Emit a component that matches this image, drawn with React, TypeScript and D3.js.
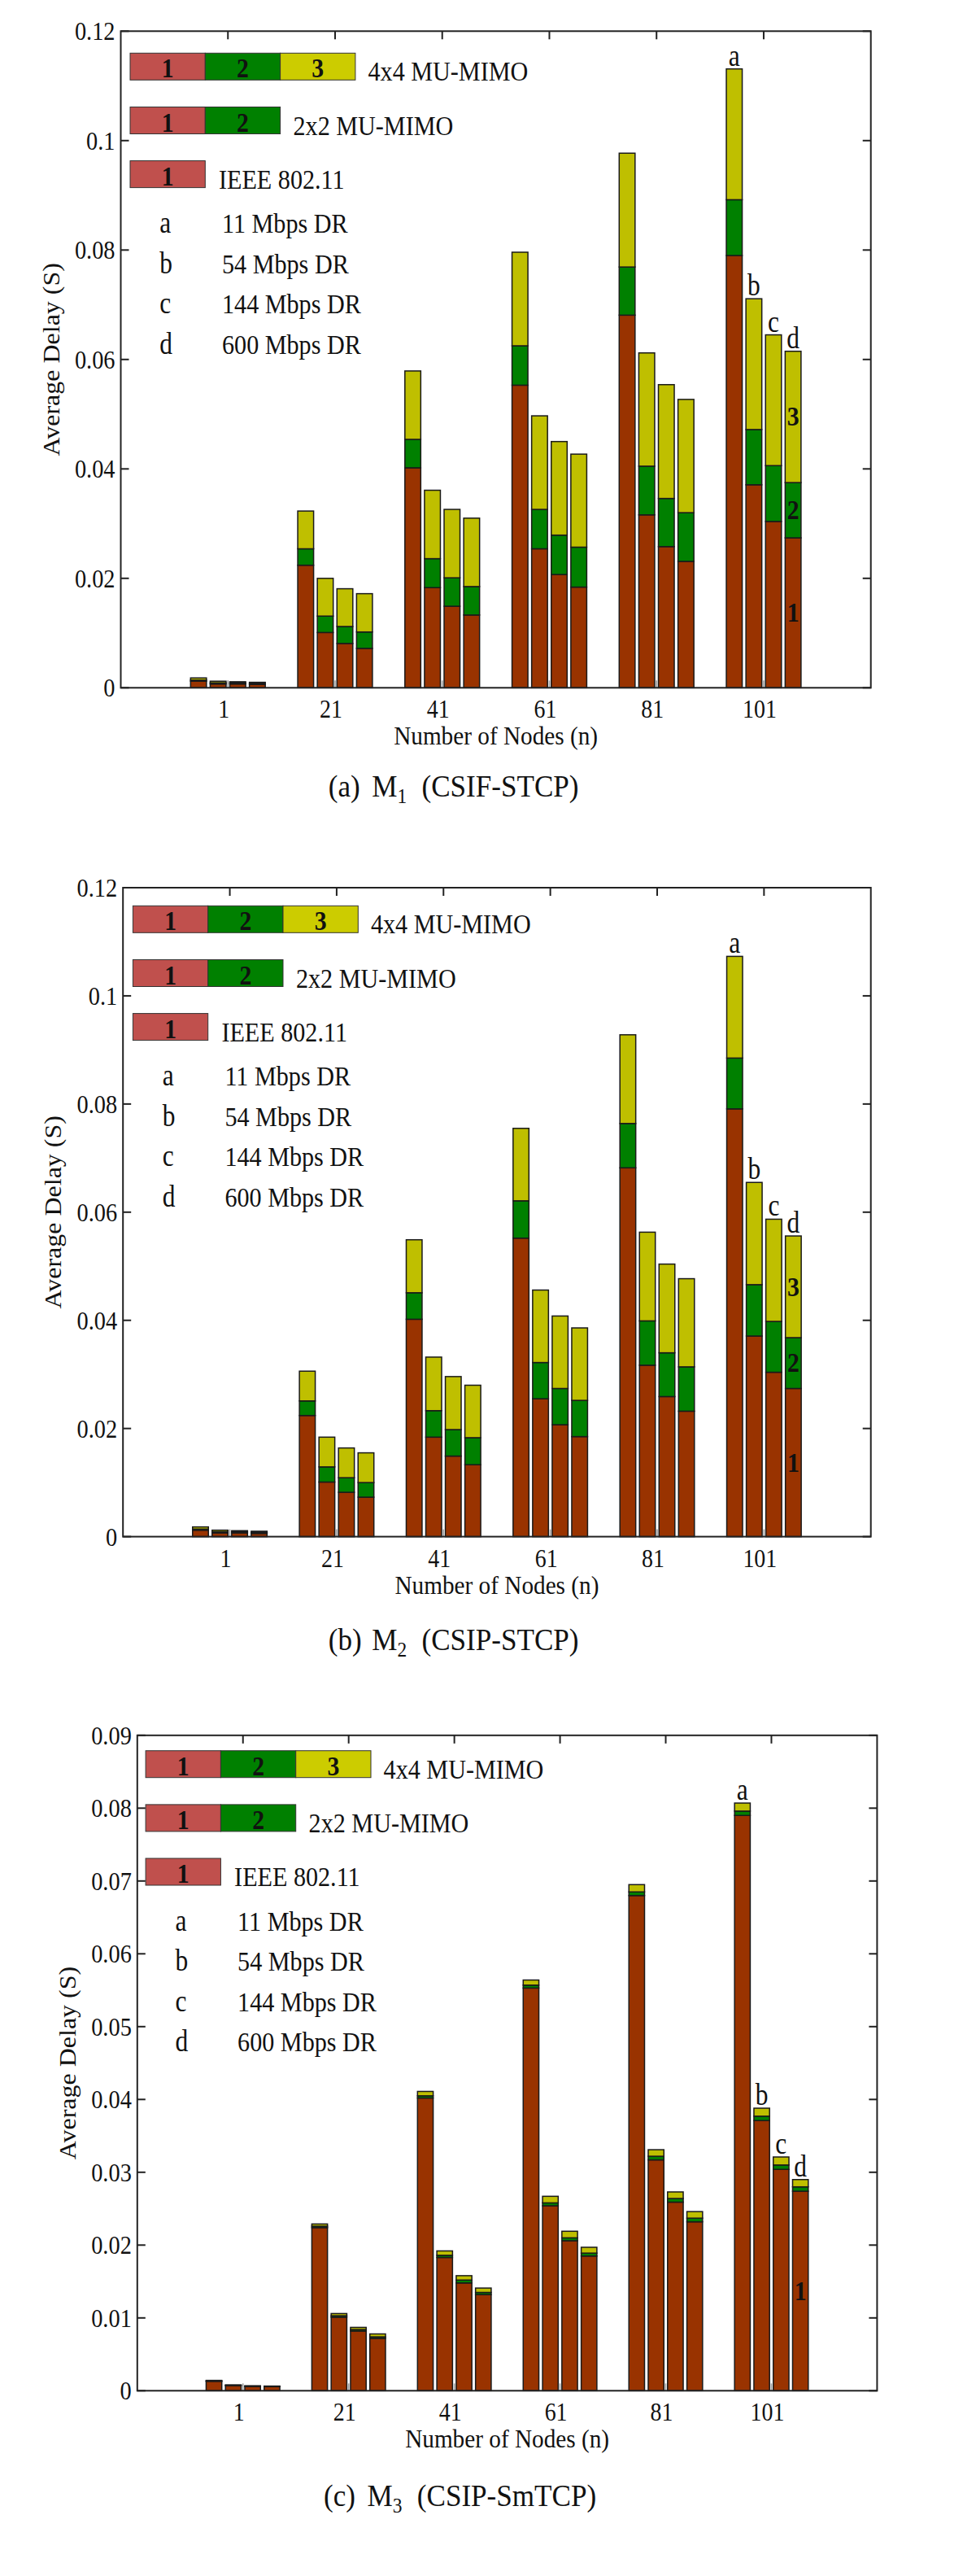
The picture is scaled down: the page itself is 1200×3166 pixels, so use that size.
import React from 'react';
import * as d3 from 'd3';

// ---------- data ----------
const nodeCounts = ['1', '21', '41', '61', '81', '101'];
const rateKeys = ['a', 'b', 'c', 'd'];
const rateLabels = ['11 Mbps DR', '54 Mbps DR', '144 Mbps DR', '600 Mbps DR'];
const schemeLabels = ['IEEE 802.11', '2x2 MU-MIMO', '4x4 MU-MIMO'];
const stackKeys = ['ieee', 'mimo2', 'mimo4'];

const yTicksM1 = [0, 0.02, 0.04, 0.06, 0.08, 0.1, 0.12];
const yTicksM2 = [0, 0.02, 0.04, 0.06, 0.08, 0.1, 0.12];
const yTicksM3 = [0, 0.01, 0.02, 0.03, 0.04, 0.05, 0.06, 0.07, 0.08, 0.09];

const captionM1 = ['(a)', 'M', '1', '(CSIF-STCP)'];
const captionM2 = ['(b)', 'M', '2', '(CSIP-STCP)'];
const captionM3 = ['(c)', 'M', '3', '(CSIP-SmTCP)'];

// rows: node groups; columns: data rates a..d
const m1Ieee = [
  [0.0012, 0.0007, 0.0007, 0.0006],
  [0.0224, 0.0101, 0.0081, 0.0072],
  [0.0402, 0.0183, 0.0149, 0.0133],
  [0.0553, 0.0254, 0.0207, 0.0184],
  [0.0681, 0.0316, 0.0258, 0.0231],
  [0.079, 0.0371, 0.0304, 0.0274],
];
const m1Mimo2 = [
  [0.0002, 0.0002, 0.0002, 0.0002],
  [0.003, 0.003, 0.0031, 0.003],
  [0.0052, 0.0053, 0.0052, 0.0052],
  [0.0072, 0.0072, 0.0072, 0.0073],
  [0.0088, 0.0089, 0.0088, 0.0089],
  [0.0102, 0.0101, 0.0102, 0.0101],
];
const m1Mimo4 = [
  [0.0004, 0.0003, 0.0002, 0.0002],
  [0.0069, 0.0069, 0.0069, 0.007],
  [0.0125, 0.0125, 0.0125, 0.0125],
  [0.0171, 0.0171, 0.0171, 0.017],
  [0.0208, 0.0207, 0.0208, 0.0207],
  [0.0239, 0.0239, 0.0239, 0.024],
];

const m2Ieee = [
  [0.0012, 0.0007, 0.0007, 0.0006],
  [0.0224, 0.0101, 0.0082, 0.0073],
  [0.0402, 0.0184, 0.0149, 0.0133],
  [0.0552, 0.0255, 0.0207, 0.0185],
  [0.0682, 0.0317, 0.0259, 0.0232],
  [0.0791, 0.0371, 0.0304, 0.0274],
];
const m2Mimo2 = [
  [0.0002, 0.0002, 0.0002, 0.0002],
  [0.0027, 0.0028, 0.0027, 0.0027],
  [0.0049, 0.0049, 0.0049, 0.005],
  [0.0069, 0.0067, 0.0067, 0.0067],
  [0.0082, 0.0082, 0.0081, 0.0082],
  [0.0094, 0.0095, 0.0094, 0.0094],
];
const m2Mimo4 = [
  [0.0004, 0.0003, 0.0002, 0.0002],
  [0.0055, 0.0055, 0.0055, 0.0055],
  [0.0098, 0.0099, 0.0098, 0.0097],
  [0.0134, 0.0134, 0.0134, 0.0134],
  [0.0164, 0.0164, 0.0164, 0.0163],
  [0.0188, 0.0189, 0.0189, 0.0188],
];

const m3Ieee = [
  [0.0013, 0.00072, 0.0006, 0.00056],
  [0.0224, 0.0101, 0.0082, 0.0072],
  [0.0402, 0.0183, 0.0148, 0.0132],
  [0.0553, 0.0254, 0.0206, 0.0185],
  [0.068, 0.0317, 0.0259, 0.0232],
  [0.079, 0.0371, 0.0304, 0.0274],
];
const m3Mimo2 = [
  [0.00004, 0.00003, 0.00003, 0.00003],
  [0.0002, 0.0002, 0.0002, 0.0002],
  [0.0003, 0.0003, 0.0004, 0.0003],
  [0.0004, 0.0004, 0.0004, 0.0004],
  [0.0005, 0.0005, 0.0005, 0.0005],
  [0.0006, 0.0006, 0.0006, 0.0006],
];
const m3Mimo4 = [
  [0.00008, 0.00005, 0.00005, 0.00005],
  [0.0003, 0.0003, 0.0003, 0.0004],
  [0.0006, 0.0006, 0.0006, 0.0006],
  [0.0007, 0.0009, 0.0009, 0.0008],
  [0.001, 0.0009, 0.0009, 0.0009],
  [0.0011, 0.0011, 0.0011, 0.001],
];

// ---------- styles / layout ----------
const FONT = "'Liberation Serif','Times New Roman',serif";
const BAR_COLORS = ['#993300', '#008000', '#BFBF00'];
const LEGEND_COLORS = ['#C0504D', '#008000', '#CCCC00'];
const SX = 0.9; // horizontal condensing of the original figure's text

const layouts = [
  { left: 148.5, right: 1070.7, top: 38.3, bottom: 845.3, yMax: 0.12, legX: 160, legY: 65.3, capX: 403.7, capY: 979, segLabels: [true, true, true] },
  { left: 151.2, right: 1070.7, top: 1091, bottom: 1888.6, yMax: 0.12, legX: 163.4, legY: 1113.3, capX: 403.7, capY: 2028, segLabels: [true, true, true] },
  { left: 168.8, right: 1078.4, top: 2132.8, bottom: 2938.3, yMax: 0.09, legX: 179.1, legY: 2151.7, capX: 398, capY: 3080, segLabels: [true, false, false] },
];

function CT({ x, y, size, anchor = 'start', weight = 'normal', sx = SX, rot = 0, children }: any) {
  return (
    <g transform={`translate(${x},${y}) scale(${sx},1)${rot ? ` rotate(${rot})` : ''}`}>
      <text fontFamily={FONT} fontSize={size} textAnchor={anchor} fontWeight={weight} fill="#111">
        {children}
      </text>
    </g>
  );
}

function Legend({ lx, ly }: { lx: number; ly: number }) {
  const sw = 92.3;
  const bh = 33;
  const rows = [
    { n: 3, label: schemeLabels[2], dy: 0, tx: 292.5 },
    { n: 2, label: schemeLabels[1], dy: 66.2, tx: 200.5 },
    { n: 1, label: schemeLabels[0], dy: 132.3, tx: 109 },
  ];
  return (
    <g>
      {rows.map((r, ri) => (
        <g key={ri}>
          {d3.range(r.n).map((k) => (
            <g key={k}>
              <rect x={lx + k * sw} y={ly + r.dy} width={sw} height={bh} fill={LEGEND_COLORS[k]} stroke="#333" strokeWidth={1} />
              <CT x={lx + k * sw + sw / 2} y={ly + r.dy + bh - 3} size={33} anchor="middle" weight="bold">{String(k + 1)}</CT>
            </g>
          ))}
          <CT x={lx + r.tx} y={ly + r.dy + 34} size={33.5}>{r.label}</CT>
        </g>
      ))}
      {rateKeys.map((k, i) => (
        <g key={k}>
          <CT x={lx + 36.3} y={ly + 221 + i * 49.5} size={37} sx={0.85}>{k}</CT>
          <CT x={lx + 113} y={ly + 221 + i * 49.5} size={33.5}>{rateLabels[i]}</CT>
        </g>
      ))}
    </g>
  );
}

function Panel({ L, ieee, mimo2, mimo4, ticks, caption }: any) {
  const step = (L.right - L.left) / 7;
  const x = d3.scaleBand().domain(nodeCounts).range([L.left + step / 2, L.right - step / 2]);
  const pitch = step * 0.183;
  const xr = d3.scaleBand().domain(rateKeys).range([-2 * pitch, 2 * pitch]).paddingInner(0.19).paddingOuter(0.095);
  const y = d3.scaleLinear().domain([0, L.yMax]).range([L.bottom, L.top]);
  const center = (c: string) => (x(c) as number) + x.bandwidth() / 2;
  const fmt = (v: number) => (v === 0 ? '0' : d3.format('~g')(v));

  const rows: any[] = [];
  nodeCounts.forEach((n, gi) =>
    rateKeys.forEach((r, ri) => rows.push({ n, r, ieee: ieee[gi][ri], mimo2: mimo2[gi][ri], mimo4: mimo4[gi][ri] }))
  );
  const series = d3.stack().keys(stackKeys)(rows);

  const lastGroup = nodeCounts[nodeCounts.length - 1];
  const lastRows = rows.map((d, i) => ({ d, i })).filter((o) => o.d.n === lastGroup);

  return (
    <g>
      {/* bottom inward ticks (mostly hidden by bars) */}
      {nodeCounts.map((c) => (
        <line key={'bt' + c} x1={center(c)} x2={center(c)} y1={L.bottom} y2={L.bottom - 9} stroke="#999" strokeWidth={1.5} />
      ))}
      {/* bars */}
      {series.map((s, si) =>
        s.map((seg: any, i: number) => {
          const d = seg.data;
          const bx = center(d.n) + (xr(d.r) as number);
          return (
            <rect
              key={si + '-' + i}
              x={bx}
              y={y(seg[1])}
              width={xr.bandwidth()}
              height={Math.max(0, y(seg[0]) - y(seg[1]))}
              fill={BAR_COLORS[si]}
              stroke="#1a1a1a"
              strokeWidth={1.5}
            />
          );
        })
      )}
      {/* letters above last group */}
      {lastRows.map(({ d, i }) => {
        const top = series[2][i][1];
        return (
          <CT key={'lt' + d.r} x={center(d.n) + (xr(d.r) as number) + xr.bandwidth() / 2} y={y(top) - 4} size={37} sx={0.85} anchor="middle">
            {d.r}
          </CT>
        );
      })}
      {/* segment numbers inside last bar */}
      {(() => {
        const i = rows.length - 1;
        const d = rows[i];
        const cx = center(d.n) + (xr(d.r) as number) + xr.bandwidth() / 2;
        return series.map((s, si) =>
          L.segLabels[si] ? (
            <CT key={'sl' + si} x={cx} y={y((s[i][0] + s[i][1]) / 2) + 11} size={33} weight="bold" anchor="middle">
              {String(si + 1)}
            </CT>
          ) : null
        );
      })()}
      {/* frame */}
      <rect x={L.left} y={L.top} width={L.right - L.left} height={L.bottom - L.top} fill="none" stroke="#222" strokeWidth={2} />
      {/* y ticks */}
      {ticks.map((t: number) => (
        <g key={'yt' + t}>
          <line x1={L.left} x2={L.left + 10} y1={y(t)} y2={y(t)} stroke="#222" strokeWidth={2} />
          <line x1={L.right - 10} x2={L.right} y1={y(t)} y2={y(t)} stroke="#222" strokeWidth={2} />
          <CT x={L.left - 7} y={y(t) + 11} size={31.5} anchor="end">{fmt(t)}</CT>
        </g>
      ))}
      {/* x ticks (top) and labels */}
      {nodeCounts.map((c) => (
        <g key={'xt' + c}>
          <line x1={center(c)} x2={center(c)} y1={L.top} y2={L.top + 10} stroke="#222" strokeWidth={2} />
          <CT x={center(c) - 5} y={L.bottom + 37} size={31} anchor="middle">{c}</CT>
        </g>
      ))}
      {/* axis labels */}
      <CT x={(L.left + L.right) / 2} y={L.bottom + 70} size={32.5} anchor="middle">Number of Nodes (n)</CT>
      <CT x={L.left - 76} y={(L.top + L.bottom) / 2} size={32} anchor="middle" rot={-90}>Average Delay (S)</CT>
      {/* legend */}
      <Legend lx={L.legX} ly={L.legY} />
      {/* caption */}
      <g transform={`translate(${L.capX},${L.capY}) scale(${SX},1)`}>
        <text fontFamily={FONT} fontSize={39} fill="#111">
          <tspan x={0}>{caption[0]}</tspan>
          <tspan x={53.6 / SX}>{caption[1]}</tspan>
          <tspan fontSize={26} dy={8}>{caption[2]}</tspan>
          <tspan x={114.8 / SX} dy={-8}>{caption[3]}</tspan>
        </text>
      </g>
    </g>
  );
}

export default function App() {
  return (
    <svg
      width={1200}
      height={3166}
      viewBox="0 0 1200 3166"
      style={{ position: 'absolute', left: 0, top: 0, background: '#fff' }}
    >
      <rect x={0} y={0} width={1200} height={3166} fill="#fff" />
      <Panel L={layouts[0]} ieee={m1Ieee} mimo2={m1Mimo2} mimo4={m1Mimo4} ticks={yTicksM1} caption={captionM1} />
      <Panel L={layouts[1]} ieee={m2Ieee} mimo2={m2Mimo2} mimo4={m2Mimo4} ticks={yTicksM2} caption={captionM2} />
      <Panel L={layouts[2]} ieee={m3Ieee} mimo2={m3Mimo2} mimo4={m3Mimo4} ticks={yTicksM3} caption={captionM3} />
    </svg>
  );
}
